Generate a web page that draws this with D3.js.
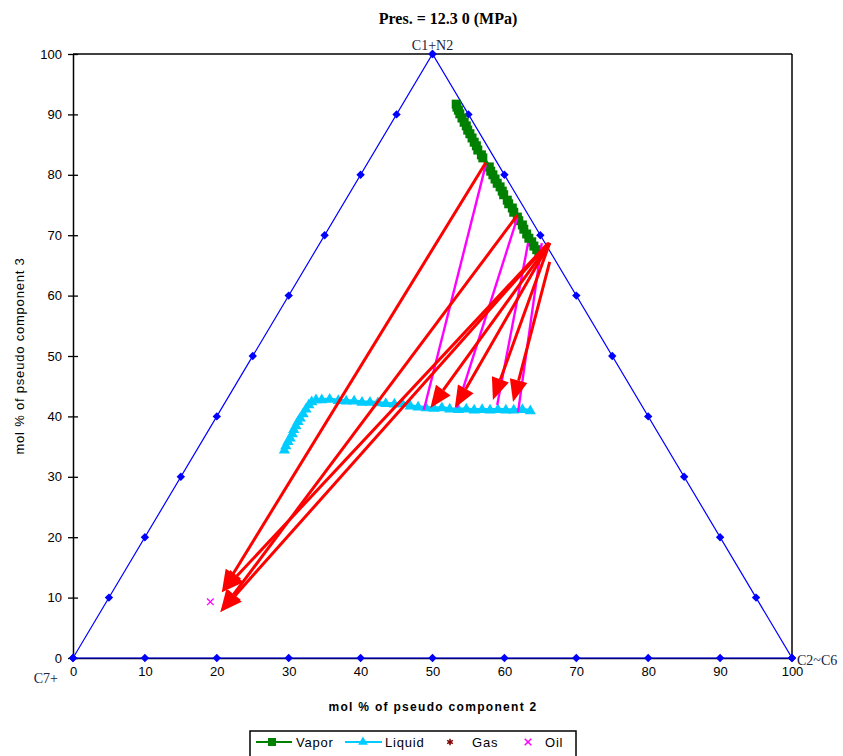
<!DOCTYPE html>
<html>
<head>
<meta charset="utf-8">
<script src="https://cdnjs.cloudflare.com/ajax/libs/d3/7.8.5/d3.min.js"></script>
<style>
  body { margin: 0; background: #fff; }
  svg { display: block; }
</style>
</head>
<body>
<svg id="chart" width="843" height="756"></svg>
<script>
// ---- data (mol % of pseudo component 2 / component 3, ternary x-y) ----
const titleText = "Pres. = 12.3 0 (MPa)";
const tickValues = [0, 10, 20, 30, 40, 50, 60, 70, 80, 90, 100];

// triangle vertices: C7+, C1+N2, C2~C6
const triangleX = [0, 50, 100, 0];
const triangleY = [0, 100, 0, 0];

const vaporX = [53.3, 53.4, 53.6, 53.8, 54.1, 54.4, 54.7, 54.9, 55.2, 55.5, 55.8, 56.1, 56.3, 56.8, 57.0,
                57.9, 58.1, 58.4, 58.7, 59.0, 59.4, 59.7, 59.9, 60.4, 60.6, 61.1, 61.3, 61.8, 62.0, 62.5,
                62.7, 63.1, 63.4, 63.8, 64.1, 64.5, 64.8];
const vaporY = [91.7, 91.2, 90.7, 90.1, 89.4, 88.7, 88.1, 87.4, 86.8, 86.1, 85.4, 84.8, 84.1, 83.3, 82.8,
                81.3, 80.6, 80.0, 79.3, 78.6, 78.0, 77.3, 76.7, 75.8, 75.2, 74.5, 73.8, 73.0, 72.4, 71.7,
                71.0, 70.2, 69.5, 68.9, 68.2, 67.6, 66.9];

const liquidX = [29.4, 29.6, 29.9, 30.2, 30.5, 30.7, 31.0, 31.3, 31.6, 32.0, 32.4, 32.8, 33.2, 33.8, 34.6,
                 35.7, 36.9, 38.0, 39.1, 40.2, 41.3, 42.4, 43.5, 44.7, 45.8, 46.9, 48.0, 49.1, 50.2, 51.3,
                 52.4, 53.6, 54.7, 55.8, 56.9, 58.0, 59.1, 60.2, 61.3, 62.5, 63.6];
const liquidY = [34.4, 35.1, 35.8, 36.4, 37.1, 37.8, 38.4, 39.1, 39.7, 40.4, 41.2, 41.9, 42.4, 42.7, 42.7,
                 42.8, 42.6, 42.5, 42.5, 42.3, 42.3, 42.2, 42.1, 42.0, 42.1, 41.7, 41.5, 41.4, 41.3, 41.4,
                 41.2, 41.1, 41.2, 41.0, 41.1, 41.0, 41.1, 41.0, 41.0, 41.1, 40.9];

const oilX = [19.1];
const oilY = [9.3];

// tie lines (vapor -> liquid)
const tieFromX = [57.4, 61.8, 63.3, 65.2];
const tieFromY = [81.6, 72.9, 68.7, 68.7];
const tieToX   = [48.8, 53.4, 59.0, 61.9];
const tieToY   = [41.1, 41.4, 41.9, 40.7];

// red arrows
const arrowFromX = [57.4, 61.8, 66.1, 65.0, 66.3, 66.3, 66.3, 66.3];
const arrowFromY = [82.0, 73.3, 68.7, 67.1, 68.7, 68.7, 68.7, 65.6];
const arrowToX   = [20.7, 20.5, 20.7, 20.5, 49.7, 53.1, 58.4, 61.2];
const arrowToY   = [10.9, 7.6, 10.9, 7.6, 41.4, 41.4, 42.7, 42.4];

const legendNames = ["Vapor", "Liquid", "Gas", "Oil"];

// ---- layout ----
const svg = d3.select("#chart");
const plotLeft = 73, plotRight = 792, plotTop = 54, plotBottom = 658;

const x = d3.scaleLinear().domain([0, 100]).range([plotLeft, plotRight]);
const y = d3.scaleLinear().domain([0, 100]).range([plotBottom, plotTop]);

const blue = "#0000ff";
const green = "#008000";
const cyan = "#00ccff";
const red = "#ff0000";
const magenta = "#ff00ff";
const sans = "Liberation Sans, Arial, sans-serif";
const serif = "Liberation Serif, Times New Roman, serif";

// plot frame (top + right)
svg.append("line").attr("x1", plotLeft).attr("x2", plotRight).attr("y1", plotTop).attr("y2", plotTop)
  .attr("stroke", "#000").attr("stroke-width", 1.5);
svg.append("line").attr("x1", plotRight).attr("x2", plotRight).attr("y1", plotTop).attr("y2", plotBottom)
  .attr("stroke", "#000").attr("stroke-width", 1.5);

// y axis with crossing ticks
const yAxis = svg.append("g")
  .attr("transform", `translate(${plotLeft},0)`)
  .call(d3.axisLeft(y).tickValues(tickValues).tickSize(5).tickPadding(6).tickSizeOuter(0));
yAxis.select(".domain").attr("stroke", "#000").attr("stroke-width", 1.5);
yAxis.selectAll(".tick line").attr("x1", -5).attr("x2", 5).attr("stroke-width", 1.3);
yAxis.selectAll("text").attr("font-family", sans).attr("font-size", 13).attr("fill", "#000");

// x axis
const xAxis = svg.append("g")
  .attr("transform", `translate(0,${plotBottom})`)
  .call(d3.axisBottom(x).tickValues(tickValues).tickSize(0).tickPadding(9));
xAxis.select(".domain").attr("stroke", "#000").attr("stroke-width", 1.5);
xAxis.selectAll("text").attr("font-family", sans).attr("font-size", 13).attr("fill", "#000");

// triangle
const lineGen = d3.line().x(d => x(d[0])).y(d => y(d[1]));
const tri = triangleX.map((v, i) => [v, triangleY[i]]);
svg.append("path").attr("d", lineGen(tri)).attr("fill", "none").attr("stroke", blue).attr("stroke-width", 1.2);

// diamond markers every 10 %
const diamonds = [];
tickValues.forEach(t => {
  diamonds.push([t / 2, t]);            // left edge
  diamonds.push([100 - t / 2, t]);      // right edge
  diamonds.push([t, 0]);                // base
});
svg.append("g").selectAll("path").data(diamonds).join("path")
  .attr("transform", d => `translate(${x(d[0])},${y(d[1])})`)
  .attr("d", d3.symbol(d3.symbolDiamond2, 45))
  .attr("fill", blue);

// liquid
const liquid = liquidX.map((v, i) => [v, liquidY[i]]);
svg.append("path").attr("d", lineGen(liquid)).attr("fill", "none").attr("stroke", cyan).attr("stroke-width", 4);
svg.append("g").selectAll("path").data(liquid).join("path")
  .attr("transform", d => `translate(${x(d[0])},${y(d[1])})`)
  .attr("d", d3.symbol(d3.symbolTriangle, 55))
  .attr("fill", cyan);

// vapor
const vapor = vaporX.map((v, i) => [v, vaporY[i]]);
svg.append("path").attr("d", lineGen(vapor)).attr("fill", "none").attr("stroke", green).attr("stroke-width", 4);
svg.append("g").selectAll("rect").data(vapor).join("rect")
  .attr("x", d => x(d[0]) - 4.5).attr("y", d => y(d[1]) - 4.5)
  .attr("width", 9).attr("height", 9)
  .attr("fill", green);

// tie lines
svg.append("g").selectAll("line").data(tieFromX.map((v, i) => i)).join("line")
  .attr("x1", i => x(tieFromX[i])).attr("y1", i => y(tieFromY[i]))
  .attr("x2", i => x(tieToX[i])).attr("y2", i => y(tieToY[i]))
  .attr("stroke", magenta).attr("stroke-width", 2.4);

// red arrows
const arrows = svg.append("g");
arrowFromX.forEach((v, i) => {
  const x1 = x(v), y1 = y(arrowFromY[i]);
  const x2 = x(arrowToX[i]), y2 = y(arrowToY[i]);
  const ang = Math.atan2(y2 - y1, x2 - x1);
  const len = 22, half = 9;
  const bx = x2 - len * Math.cos(ang), by = y2 - len * Math.sin(ang);
  arrows.append("line")
    .attr("x1", x1).attr("y1", y1).attr("x2", bx).attr("y2", by)
    .attr("stroke", red).attr("stroke-width", 3);
  const pts = [
    [x2, y2],
    [bx + half * Math.sin(ang), by - half * Math.cos(ang)],
    [bx - half * Math.sin(ang), by + half * Math.cos(ang)]
  ];
  arrows.append("polygon").attr("points", pts.map(p => p.join(",")).join(" ")).attr("fill", red);
});

// oil point
svg.append("g").selectAll("path").data(oilX.map((v, i) => [v, oilY[i]])).join("path")
  .attr("transform", d => `translate(${x(d[0])},${y(d[1])})`)
  .attr("d", d3.symbol(d3.symbolX, 30))
  .attr("fill", "none").attr("stroke", magenta).attr("stroke-width", 1.3);

// labels
svg.append("text").attr("x", 448).attr("y", 24).attr("text-anchor", "middle")
  .attr("font-family", serif).attr("font-weight", "bold")
  .attr("font-size", 16).text(titleText);

svg.append("text").attr("x", x(50)).attr("y", 50).attr("text-anchor", "middle")
  .attr("font-family", serif).attr("font-size", 14).attr("fill", "#1a2240").text("C1+N2");
svg.append("text").attr("x", 58).attr("y", 683).attr("text-anchor", "end")
  .attr("font-family", serif).attr("font-size", 14).attr("fill", "#1a2240").text("C7+");
svg.append("text").attr("x", 797).attr("y", 665)
  .attr("font-family", serif).attr("font-size", 14).attr("fill", "#1a2240").text("C2~C6");

svg.append("text").attr("x", 433).attr("y", 711).attr("text-anchor", "middle")
  .attr("font-family", sans).attr("font-weight", "bold")
  .attr("font-size", 12).attr("letter-spacing", 1.3).text("mol % of pseudo component 2");

svg.append("text").attr("transform", `translate(24,${(plotTop + plotBottom) / 2}) rotate(-90)`)
  .attr("text-anchor", "middle")
  .attr("font-family", sans)
  .attr("font-size", 13).attr("letter-spacing", 0.8).text("mol % of pseudo component 3");

// legend
const lg = svg.append("g");
lg.append("rect").attr("x", 250).attr("y", 731).attr("width", 326).attr("height", 40)
  .attr("fill", "#fff").attr("stroke", "#000").attr("stroke-width", 1.5);
const ly = 742;
lg.append("line").attr("x1", 256).attr("x2", 292).attr("y1", ly).attr("y2", ly).attr("stroke", green).attr("stroke-width", 2);
lg.append("rect").attr("x", 268).attr("y", ly - 4).attr("width", 8).attr("height", 8).attr("fill", green);
lg.append("line").attr("x1", 345).attr("x2", 382).attr("y1", ly).attr("y2", ly).attr("stroke", cyan).attr("stroke-width", 2);
lg.append("path").attr("transform", `translate(363,${ly})`).attr("d", d3.symbol(d3.symbolTriangle, 40)).attr("fill", cyan);
lg.append("path").attr("transform", `translate(450,${ly})`).attr("d", d3.symbol(d3.symbolAsterisk, 30))
  .attr("fill", "none").attr("stroke", "#800000").attr("stroke-width", 1.5);
lg.append("path").attr("transform", `translate(528,${ly})`).attr("d", d3.symbol(d3.symbolX, 30))
  .attr("fill", "none").attr("stroke", magenta).attr("stroke-width", 1.5);
const legendX = [296, 385, 472, 545];
legendNames.forEach((n, i) => {
  lg.append("text").attr("x", legendX[i]).attr("y", ly + 5)
    .attr("font-family", sans).attr("font-size", 13)
    .attr("letter-spacing", 0.8).text(n);
});
</script>
</body>
</html>
